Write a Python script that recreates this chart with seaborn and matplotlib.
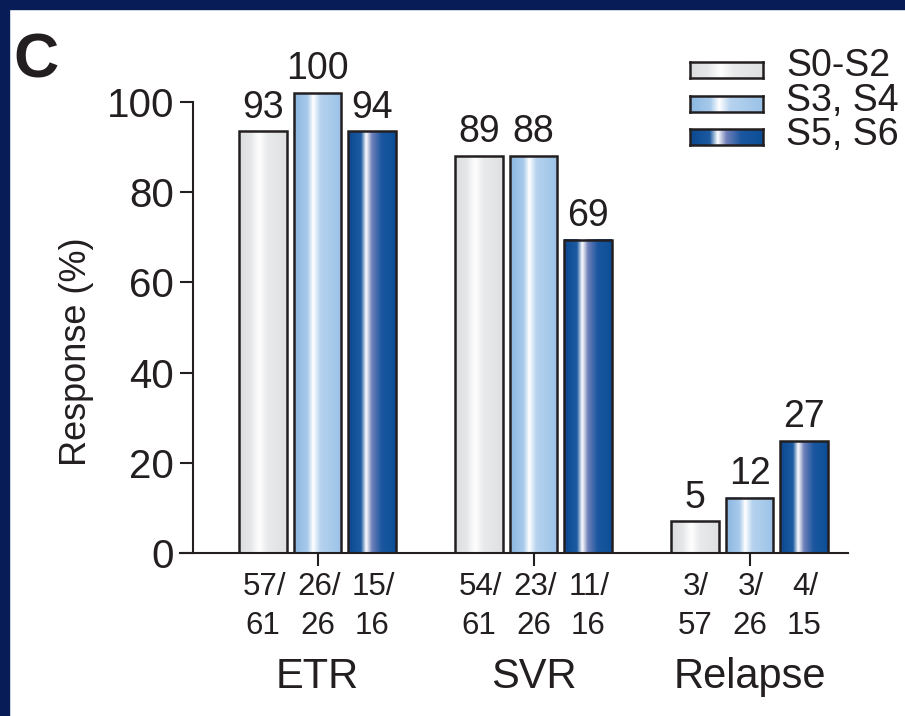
import numpy as np
import pandas as pd
import matplotlib
matplotlib.use("Agg")
import matplotlib.pyplot as plt
from matplotlib.colors import LinearSegmentedColormap
from matplotlib.patches import Rectangle
import seaborn as sns

# data
groups = ["ETR", "SVR", "Relapse"]
stages = ["S0-S2", "S3, S4", "S5, S6"]
# bar heights as drawn (%)
h_s0 = [93.5, 88.0, 7.0]
h_s3 = [102.0, 88.0, 12.3]
h_s5 = [93.5, 69.5, 24.8]
# printed percentages
pct_s0 = ["93", "89", "5"]
pct_s3 = ["100", "88", "12"]
pct_s5 = ["94", "69", "27"]
# n / N under each bar
num_s0 = ["57/", "54/", "3/"]
den_s0 = ["61", "61", "57"]
num_s3 = ["26/", "23/", "3/"]
den_s3 = ["26", "26", "26"]
num_s5 = ["15/", "11/", "4/"]
den_s5 = ["16", "16", "15"]
yticks = [0, 20, 40, 60, 80, 100]

INK = "#231f20"
NAVY = "#081c58"

# gradient fills (left -> right across each bar)
grad_stops = {
    "S0-S2": [(0.0, "#dcdddf"), (0.25, "#e6e7e8"), (0.42, "#ffffff"), (0.6, "#e9eaeb"), (1.0, "#dfe0e2")],
    "S3, S4": [(0.0, "#8ab7e1"), (0.28, "#a8caeb"), (0.40, "#ffffff"), (0.55, "#b6d3ef"), (1.0, "#9bc2e7")],
    "S5, S6": [(0.0, "#0b4890"), (0.27, "#1c5aa1"), (0.38, "#ffffff"), (0.5, "#7080b9"), (0.7, "#1b57a0"), (1.0, "#0c4f97")],
}
cmaps = {k: LinearSegmentedColormap.from_list(k, v) for k, v in grad_stops.items()}
base_col = {"S0-S2": "#e1e2e4", "S3, S4": "#9cc3e8", "S5, S6": "#0c4f97"}

df = pd.DataFrame({
    "group": groups * 3,
    "stage": [s for s in stages for _ in groups],
    "height": h_s0 + h_s3 + h_s5,
})
pct = pct_s0 + pct_s3 + pct_s5
num = num_s0 + num_s3 + num_s5
den = den_s0 + den_s3 + den_s5

sns.set_style("ticks")
plt.rcParams["font.family"] = ["Liberation Sans", "DejaVu Sans"]

fig = plt.figure(figsize=(9.05, 7.16), dpi=100, facecolor="white")
fig.patches.append(Rectangle((0, 1 - 9 / 716), 1, 9 / 716, transform=fig.transFigure, color=NAVY, zorder=0))
fig.patches.append(Rectangle((0, 0), 9 / 905, 1, transform=fig.transFigure, color=NAVY, zorder=0))

ax = fig.add_axes([180 / 905, (716 - 553) / 716, (848 - 180) / 905, 496 / 716])
ax.set_facecolor("none")

sns.barplot(data=df, x="group", y="height", hue="stage", hue_order=stages,
            palette=base_col, width=0.76, gap=0.13, errorbar=None,
            legend=False, ax=ax)

grad = np.linspace(0, 1, 256).reshape(1, -1)
bars = sorted(ax.patches, key=lambda p: p.get_x())
# order after sorting by x: group-major, stage-minor
for i, p in enumerate(bars):
    g, s = divmod(i, 3)
    k = s * 3 + g
    x, w, h = p.get_x(), p.get_width(), p.get_height()
    ax.imshow(grad, cmap=cmaps[stages[s]], extent=[x, x + w, 0, h],
              aspect="auto", zorder=2, interpolation="bilinear")
    p.set_facecolor("none")
    p.set_edgecolor(INK)
    p.set_linewidth(1.8)
    p.set_zorder(3)
    cx = x + w / 2
    ax.annotate(pct[k], (cx, h), xytext=(0, 10), textcoords="offset points",
                ha="center", va="baseline", fontsize=27, color=INK)
    ax.annotate(num[k], (cx, 0), xytext=(1, -30.5), textcoords="offset points",
                ha="center", va="baseline", fontsize=22.5, color=INK, annotation_clip=False)
    ax.annotate(den[k], (cx, 0), xytext=(0, -58.5), textcoords="offset points",
                ha="center", va="baseline", fontsize=22.5, color=INK, annotation_clip=False)

for i, g in enumerate(groups):
    ax.annotate(g, (i, 0), xytext=(0, -97), textcoords="offset points",
                ha="center", va="baseline", fontsize=30, color=INK, annotation_clip=False)

ax.set_xlim(-0.6366, 2.456)
ax.set_ylim(0, 110)
ax.set_xticks(range(len(groups)))
ax.set_xticklabels([""] * len(groups))
ax.set_yticks(yticks)
ax.set_yticklabels([str(t) for t in yticks])
ax.set_xlabel("")
ax.set_ylabel("")
ax.tick_params(axis="y", length=9.5, width=1.5, pad=4, labelsize=29, colors=INK)
ax.tick_params(axis="x", length=9.5, width=1.5, colors=INK)
for side in ["top", "right"]:
    ax.spines[side].set_visible(False)
ax.spines["left"].set_position(("axes", 13 / 668))
ax.spines["left"].set_bounds(0, 100)
for side in ["left", "bottom"]:
    ax.spines[side].set_linewidth(1.5)
    ax.spines[side].set_color(INK)

fig.text(77 / 905, 1 - 352 / 716, "Response (%)", rotation=90, ha="center", va="center",
         fontsize=26, color=INK)
fig.text(13 / 905, 1 - 78 / 716, "C", ha="left", va="baseline", fontsize=45,
         fontweight="bold", color=INK)

# legend swatches with the same gradients
sw_top = [62, 96, 129]
base_lines = [76, 111, 145]
for s, top, bl in zip(stages, sw_top, base_lines):
    lax = fig.add_axes([690 / 905, 1 - (top + 16) / 716, 73 / 905, 16 / 716])
    lax.imshow(grad, cmap=cmaps[s], aspect="auto", interpolation="bilinear")
    lax.set_xticks([])
    lax.set_yticks([])
    for sp in lax.spines.values():
        sp.set_linewidth(1.8)
        sp.set_color(INK)
    fig.text(786 / 905, 1 - bl / 716, s, ha="left", va="baseline", fontsize=27, color=INK)

fig.savefig("out.png", dpi=100)
